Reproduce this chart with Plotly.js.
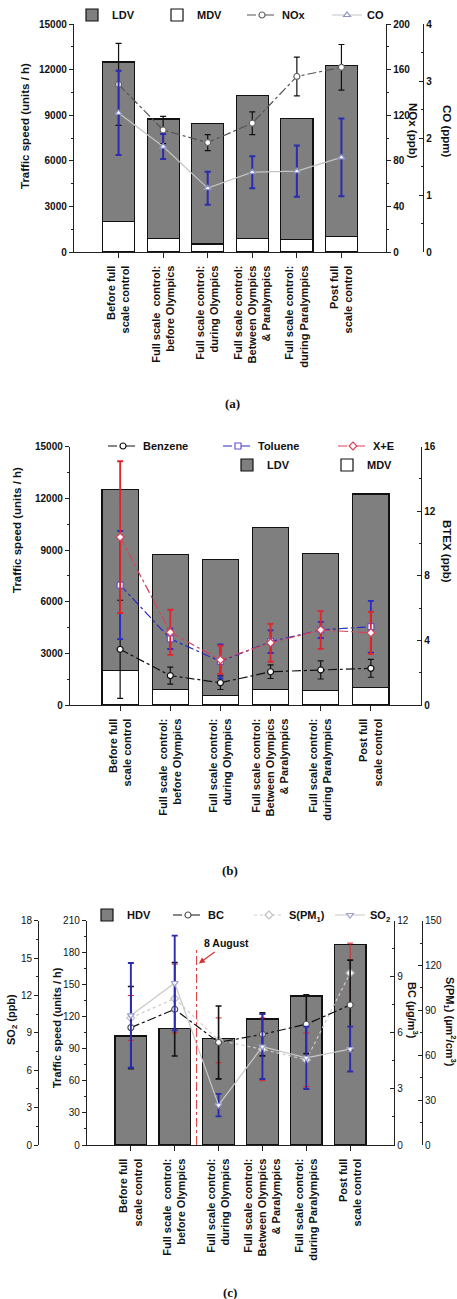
<!DOCTYPE html>
<html><head><meta charset="utf-8">
<script src="https://cdn.plot.ly/plotly-3.0.1.min.js"></script>
<style>html,body{margin:0;padding:0;background:#fff}#chart{width:457px;height:1299px}</style>
</head><body><div id="chart"></div>
<script>
// ---------- DATA ----------
const categories = [
  "Before full<br>scale control",
  "Full scale  control:<br>before Olympics",
  "Full scale control:<br>during Olympics",
  "Full scale control:<br>Between Olympics<br>& Paralympics",
  "Full scale control:<br>during Paralympics",
  "Post full<br>scale control"
];
// panel (a) & (b): traffic (units / h)
const mdv = [2000, 900, 530, 900, 820, 1000];
const ldv = [10500, 7850, 7920, 9420, 7980, 11250];
// panel (a)
const nox = [147, 107, 96, 113, 154, 162];
const noxErr = [36, 12, 7, 10, 17, 20];
const co = [2.44, 1.85, 1.12, 1.40, 1.42, 1.66];
const coErr = [0.74, 0.22, 0.29, 0.28, 0.45, 0.68];
// panel (b) BTEX (ppb)
const benzene = [3.45, 1.82, 1.38, 2.06, 2.17, 2.27];
const benzeneErr = [3.04, 0.53, 0.42, 0.42, 0.56, 0.55];
const toluene = [7.43, 4.10, 2.70, 3.92, 4.65, 4.85];
const tolueneErr = [3.35, 0.63, 1.05, 0.70, 0.50, 1.60];
const xe = [10.4, 4.50, 2.80, 3.85, 4.65, 4.47];
const xeErr = [4.7, 1.40, 0.87, 1.17, 1.17, 1.30];
// panel (c)
const hdv = [102, 109, 100, 118, 139.5, 188];
const bc = [6.28, 7.26, 5.49, 5.92, 6.46, 7.49];
const bcErr = [2.2, 2.5, 1.95, 1.15, 1.57, 2.4];
const spm1 = [85, 98, 70, 64, 57, 115];
const spm1Err = [15, 23, 15, 21, 18, 20];
const so2 = [10.4, 13.0, 3.2, 7.9, 7.0, 7.7];
const so2Err = [4.2, 3.8, 0.9, 2.6, 2.5, 1.8];
const eventMark = {x: 1.5, top: 184, label: "8 August"};

// ---------- LAYOUT HELPERS ----------
const W = 457, H = 1299;
const px = v => v / W;
const py = v => 1 - v / H;
const xIdx = categories.map((_, i) => i);
const FONT = "Liberation Sans, Arial, sans-serif";
const tickF = {family: FONT, size: 10, color: "#111", weight: "bold"};
const tickFn = {family: FONT, size: 10, color: "#111", weight: "normal"};
const legF = {family: FONT, size: 11, color: "#111", weight: "bold"};
const BAR_W = 0.72;
const GRAY = "#7f7f7f";

function xax(dom, anchor) {
  return {domain: dom, anchor: anchor, range: [-1, 6], tickmode: "array", tickvals: xIdx, ticktext: categories,
    tickangle: -90, ticks: "outside", ticklen: 5, tickcolor: "#222", showline: true, linecolor: "#222", linewidth: 1.2,
    showgrid: false, zeroline: false, ticklabelstandoff: 3,
    tickfont: {family: FONT, size: 11, color: "#111", weight: "bold"}};
}
function yax(o) {
  const base = {showline: true, linecolor: "#222", linewidth: 1.2, showgrid: false, zeroline: false,
    ticks: "outside", ticklen: 4, tickcolor: "#222", tickfont: tickF, tickformat: "d", fixedrange: true};
  if (o.minor) { base.minor = {dtick: o.minor, ticks: o.ticks || "outside", ticklen: 2, tickcolor: "#222"}; delete o.minor; }
  return Object.assign(base, o);
}

const traces = [];
function bar(x, y, name, color, xa, ya, leg, rank) {
  traces.push({type: "bar", x: x, y: y, name: name, xaxis: xa, yaxis: ya, width: BAR_W, legend: leg, legendrank: rank,
    marker: {color: color, line: {color: "#111", width: 1.2}}});
}
function line(y, err, name, o) {
  traces.push({type: "scatter", mode: "lines+markers", x: xIdx, y: y, name: name, xaxis: o.xa, yaxis: o.ya,
    legend: o.leg, legendrank: o.rank,
    line: {color: o.lc, width: o.lw || 1.2, dash: o.dash || "solid"},
    marker: {symbol: o.sym, size: o.ms || 6, color: "#fff", line: {color: o.mc, width: 1.2}},
    error_y: {type: "data", array: err, visible: true, color: o.ec, thickness: o.et || 1.2, width: 3}});
}

// ---------- PANEL (a) ----------
bar(xIdx, mdv, "MDV", "#ffffff", "x", "y", "legend", 2);
bar(xIdx, ldv, "LDV", GRAY, "x", "y", "legend", 1);
line(nox, noxErr, "NOx", {xa: "x", ya: "y2", leg: "legend", rank: 3, lc: "#555", dash: "dashdot", sym: "circle", mc: "#666", ec: "#111"});
line(co, coErr, "CO", {xa: "x", ya: "y3", leg: "legend", rank: 4, lc: "#c4c4c4", sym: "triangle-up", mc: "#8d93c8", ec: "#2b2bb0", et: 2});

// ---------- PANEL (b) ----------
bar(xIdx, mdv, "MDV", "#ffffff", "x2", "y4", "legend3", 2);
bar(xIdx, ldv, "LDV", GRAY, "x2", "y4", "legend3", 1);
line(benzene, benzeneErr, "Benzene", {xa: "x2", ya: "y5", leg: "legend2", rank: 1, lc: "#111", dash: "dashdot", sym: "circle", mc: "#111", ec: "#111"});
line(toluene, tolueneErr, "Toluene", {xa: "x2", ya: "y5", leg: "legend2", rank: 2, lc: "#2a2ac8", dash: "dashdot", sym: "square", mc: "#6a4fd0", ec: "#2a2ac8", et: 1.8});
line(xe, xeErr, "X+E", {xa: "x2", ya: "y5", leg: "legend2", rank: 3, lc: "#d9405a", dash: "dashdot", sym: "diamond", mc: "#d9405a", ec: "#e0242c", et: 1.8});

// ---------- PANEL (c) ----------  (axis order sets layering: S(PM1) y7 below BC y8 below SO2 y9)
bar(xIdx, hdv, "HDV", GRAY, "x3", "y6", "legend4", 1);
line(spm1, spm1Err, "S(PM<sub>1</sub>)", {xa: "x3", ya: "y7", leg: "legend4", rank: 3, lc: "#cccccc", dash: "dot", sym: "diamond", mc: "#c0c0c0", ec: "#e0242c", et: 1.0});
line(bc, bcErr, "BC", {xa: "x3", ya: "y8", leg: "legend4", rank: 2, lc: "#111", dash: "dashdot", sym: "circle", mc: "#555", ec: "#111", et: 1.6});
line(so2, so2Err, "SO<sub>2</sub>", {xa: "x3", ya: "y9", leg: "legend4", rank: 4, lc: "#c8c8c8", sym: "triangle-down", mc: "#9aa0d0", ec: "#2b2bb0", et: 1.9});

// ---------- AXES ----------
const domA = {x: [px(74), px(386)], y: [py(252), py(24)]};
const domB = {x: [px(70), px(421)], y: [py(705), py(446.7)]};
const domC = {x: [px(87), px(394)], y: [py(1145), py(920.7)]};

function legend(x, y, ew) {
  return {orientation: "h", x: px(x), xanchor: "left", y: py(y), yanchor: "middle", entrywidth: ew, entrywidthmode: "pixels",
    font: legF, bgcolor: "rgba(0,0,0,0)", borderwidth: 0, traceorder: "normal", itemclick: false};
}
function ann(text, x, y, angle, size, extra) {
  return Object.assign({xref: "paper", yref: "paper", x: px(x), y: py(y), text: text, showarrow: false, textangle: angle,
    xanchor: "center", yanchor: "middle", font: {family: FONT, size: size || 11.5, color: "#111", weight: "bold"}}, extra || {});
}
const capF = {family: "Liberation Serif, Times New Roman, serif", size: 13, color: "#111", weight: "bold"};

const layout = {
  width: W, height: H, margin: {l: 0, r: 0, t: 0, b: 0}, paper_bgcolor: "#fff", plot_bgcolor: "rgba(0,0,0,0)",
  barmode: "stack", showlegend: true, font: {family: FONT},
  xaxis: xax(domA.x, "y"),
  yaxis: yax({domain: domA.y, anchor: "x", range: [0, 15000], dtick: 3000, minor: 1500}),
  yaxis2: yax({overlaying: "y", side: "right", anchor: "x", range: [0, 200], dtick: 40, minor: 20}),
  yaxis3: yax({overlaying: "y", side: "right", anchor: "free", position: px(423), range: [0, 4], dtick: 1, ticks: "inside", minor: 0.5}),
  xaxis2: xax(domB.x, "y4"),
  yaxis4: yax({domain: domB.y, anchor: "x2", range: [0, 15000], dtick: 3000, minor: 1500}),
  yaxis5: yax({overlaying: "y4", side: "right", anchor: "x2", range: [0, 16], dtick: 4, ticks: "inside", minor: 2}),
  xaxis3: xax(domC.x, "y6"),
  yaxis6: yax({domain: domC.y, anchor: "x3", range: [0, 210], dtick: 30, minor: 15, tickfont: tickFn}),
  yaxis7: yax({overlaying: "y6", side: "right", anchor: "free", position: px(421.7), range: [0, 150], dtick: 30, ticks: "inside", minor: 15, tickfont: tickFn}),
  yaxis8: yax({overlaying: "y6", side: "right", anchor: "x3", range: [0, 12], dtick: 3, ticks: "inside", minor: 1.5, tickfont: tickFn}),
  yaxis9: yax({overlaying: "y6", side: "left", anchor: "free", position: px(38), range: [0, 18], dtick: 3, minor: 1.5, tickfont: tickFn}),
  legend: legend(72, 15, 40),
  legend2: legend(103, 446, 70),
  legend3: legend(227, 465, 55),
  legend4: legend(87, 915, 36),
  shapes: [
    {type: "line", xref: "x3", yref: "y6", x0: eventMark.x, x1: eventMark.x, y0: 0, y1: eventMark.top,
     line: {color: "#d63030", width: 1, dash: "dashdot"}}
  ],
  annotations: [
    ann("Traffic speed (units / h)", 25, 126, -90),
    ann("NOx (ppb)", 413, 131, 90),
    ann("CO (ppm)", 447, 131, 90),
    ann("Traffic speed (units / h)", 17, 530, -90),
    ann("BTEX (ppb)", 447, 551, 90),
    ann("SO<sub>2</sub> (ppb)", 12, 1020, -90, 11),
    ann("Traffic speed (units / h)", 57, 1028, -90, 11),
    ann("BC (µg/m<sup>3</sup>)", 413, 1010, 90, 11),
    ann("S(PM<sub>1</sub>) (µm<sup>2</sup>/cm<sup>3</sup>)", 450, 1022, 90, 11),
    ann("(a)", 232, 403, 0, 13, {font: capF}),
    ann("(b)", 230, 870, 0, 13, {font: capF}),
    ann("(c)", 230, 1292, 0, 13, {font: capF}),
    {xref: "x3", yref: "y6", x: eventMark.x + 0.05, y: eventMark.top - 14, text: eventMark.label, showarrow: true,
     ax: 28, ay: -20, arrowcolor: "#d63030", arrowhead: 2, arrowsize: 1, arrowwidth: 1.2, standoff: 0, startstandoff: 2,
     font: {family: FONT, size: 10.5, color: "#111", weight: "bold"}}
  ]
};

Plotly.newPlot("chart", traces, layout, {displayModeBar: false, staticPlot: true});
</script>
</body></html>
